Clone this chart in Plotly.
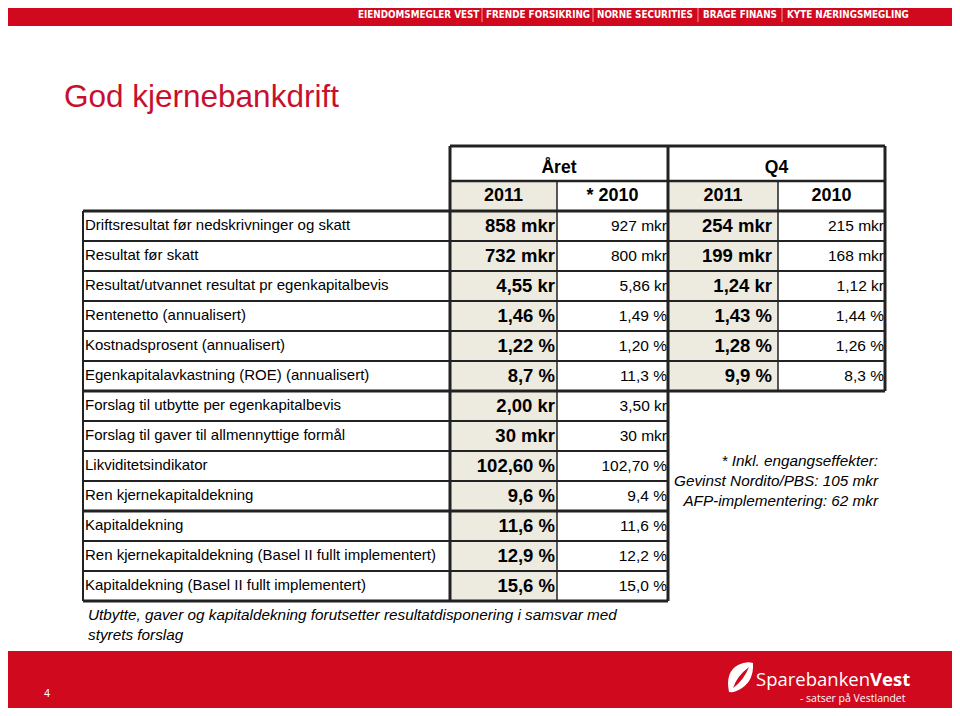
import plotly.graph_objects as go

# Data

labels = ["Driftsresultat før nedskrivninger og skatt",
          "Resultat før skatt",
          "Resultat/utvannet resultat pr egenkapitalbevis",
          "Rentenetto (annualisert)",
          "Kostnadsprosent (annualisert)",
          "Egenkapitalavkastning (ROE) (annualisert)",
          "Forslag til utbytte per egenkapitalbevis",
          "Forslag til gaver til allmennyttige formål",
          "Likviditetsindikator",
          "Ren kjernekapitaldekning",
          "Kapitaldekning",
          "Ren kjernekapitaldekning (Basel II fullt implementert)",
          "Kapitaldekning (Basel II fullt implementert)"]
aret_2011 = ["858 mkr", "732 mkr", "4,55 kr", "1,46 %", "1,22 %", "8,7 %", "2,00 kr",
             "30 mkr", "102,60 %", "9,6 %", "11,6 %", "12,9 %", "15,6 %"]
aret_2010 = ["927 mkr", "800 mkr", "5,86 kr", "1,49 %", "1,20 %", "11,3 %", "3,50 kr",
             "30 mkr", "102,70 %", "9,4 %", "11,6 %", "12,2 %", "15,0 %"]
q4_2011 = ["254 mkr", "199 mkr", "1,24 kr", "1,43 %", "1,28 %", "9,9 %"]
q4_2010 = ["215 mkr", "168 mkr", "1,12 kr", "1,44 %", "1,26 %", "8,3 %"]
groups = ["Året", "Q4"]
years = ["2011", "* 2010", "2011", "2010"]
companies = ["EIENDOMSMEGLER VEST", "FRENDE FORSIKRING", "NORNE SECURITIES", "BRAGE FINANS", "KYTE NÆRINGSMEGLING"]
note_lines = ["* Inkl. engangseffekter:", "Gevinst Nordito/PBS: 105 mkr", "AFP-implementering: 62 mkr"]
footnote = "Utbytte, gaver og kapitaldekning forutsetter resultatdisponering i samsvar med<br>styrets forslag"

# Layout constants (pixels of the page; the page body has an 8px margin)
RED = "#D0091E"
SHADE = "#EDEAE0"
LINE = "#222222"
FONT = "Liberation Sans, Arial, sans-serif"
PAD = 8
col_x = [83, 450, 557, 668, 778, 885]
head_y = [146, 181, 211]
row_h = 30
top = head_y[2]
n_rows = len(labels)
n_q4 = len(q4_2011)
bottom = top + n_rows * row_h
q4_bottom = top + n_q4 * row_h

fig = go.Figure()
shapes = []

def rect(x0, y0, x1, y1, color):
    shapes.append(dict(type="rect", xref="x", yref="y", x0=x0, y0=y0, x1=x1, y1=y1,
                       fillcolor=color, line=dict(width=0), layer="below"))

def line(x0, y0, x1, y1, w=2, color=LINE):
    shapes.append(dict(type="line", xref="x", yref="y", x0=x0, y0=y0, x1=x1, y1=y1,
                       line=dict(color=color, width=w)))

# red bars
rect(3, 0, 957, 26, RED)
rect(5, 651, 957, 716, RED)

# shaded 2011 columns
rect(col_x[1], head_y[1], col_x[2], bottom, SHADE)
rect(col_x[3], head_y[1], col_x[4], q4_bottom, SHADE)

# horizontal lines
line(col_x[1], head_y[0], col_x[5], head_y[0], 3)
line(col_x[1], head_y[1], col_x[5], head_y[1], 2.5)
for i in range(n_rows + 1):
    y = top + i * row_h
    x_end = col_x[5] if i <= n_q4 else col_x[3]
    w = 3 if i in (0, n_q4, 10, n_rows) else 2
    line(col_x[0], y, x_end, y, w)

# vertical lines
line(col_x[0], top, col_x[0], bottom, 2)
line(col_x[1], head_y[0], col_x[1], bottom, 3)
line(col_x[2], head_y[1], col_x[2], bottom, 1.5)
line(col_x[3], head_y[0], col_x[3], bottom, 3)
line(col_x[4], head_y[1], col_x[4], q4_bottom, 1.5)
line(col_x[5], head_y[0], col_x[5], q4_bottom, 3)

# separators in the top bar
for sx in [482, 593, 698, 782]:
    line(sx, 4, sx, 22, 1, "#F29A9A")

# logo icon
shapes.append(dict(type="path", xref="x", yref="y",
                   path="M 729 692 Q 725 672 738 665 Q 746 661 753 663 Q 754 680 742 688 Q 735 693 729 692 Z",
                   fillcolor="white", line=dict(width=0)))
shapes.append(dict(type="path", xref="x", yref="y",
                   path="M 733 688 Q 737 676 749 667 Q 744 680 733 688 Z",
                   fillcolor=RED, line=dict(width=0)))

row_centers = [top + row_h * i + row_h / 2 + 1 for i in range(n_rows)]

def text_trace(xs, ys, texts, size, pos, bold=False, color="black"):
    fig.add_trace(go.Scatter(x=xs, y=ys, mode="text", text=texts, textposition=pos,
                             textfont=dict(family=FONT, size=size, color=color,
                                           weight="bold" if bold else "normal"),
                             hoverinfo="skip", showlegend=False))

# header
text_trace([(col_x[1] + col_x[3]) / 2, (col_x[3] + col_x[5]) / 2], [169, 169], groups, 17.5, "middle center", True)
text_trace([(col_x[i] + col_x[i + 1]) / 2 for i in range(1, 5)], [196] * 4, years, 18, "middle center", True)

# body
text_trace([col_x[0] + 2] * n_rows, [c - 1 for c in row_centers], labels, 15, "middle right")
text_trace([col_x[2] - 2] * n_rows, row_centers, aret_2011, 18.5, "middle left", True)
text_trace([col_x[3] - 1] * n_rows, row_centers, aret_2010, 15.5, "middle left")
text_trace([col_x[4] - 6] * n_q4, row_centers[:n_q4], q4_2011, 18.5, "middle left", True)
text_trace([col_x[5] - 1] * n_q4, row_centers[:n_q4], q4_2010, 15.5, "middle left")

annotations = []
# top bar companies
comp_x = [418, 538, 645, 740, 848]
for cx, name in zip(comp_x, companies):
    annotations.append(dict(x=cx, y=14, xref="x", yref="y", text="<b>" + name + "</b>", showarrow=False,
                            font=dict(family="DejaVu Sans Condensed, Liberation Sans Narrow, sans-serif",
                                      size=9.8, color="white")))

annotations += [
    dict(x=62, y=96, xref="x", yref="y", text="God kjernebankdrift", showarrow=False, xanchor="left",
         font=dict(family=FONT, size=31.5, color="#C8102E")),
    dict(x=86, y=624, xref="x", yref="y", text="<i>" + footnote + "</i>", showarrow=False, xanchor="left",
         align="left", font=dict(family=FONT, size=15.3, color="black")),
    dict(x=881, y=480, xref="x", yref="y", text="<i>" + "<br>".join(note_lines) + "</i>", showarrow=False,
         xanchor="right", align="right", font=dict(family=FONT, size=15.3, color="black")),
    dict(x=47, y=693, xref="x", yref="y", text="4", showarrow=False,
         font=dict(family=FONT, size=11, color="white")),
    dict(x=754, y=678, xref="x", yref="y", text="Sparebanken<b>Vest</b>", showarrow=False, xanchor="left",
         font=dict(family="Open Sans, sans-serif", size=18.5, color="white")),
    dict(x=908, y=698, xref="x", yref="y", text="- satser på Vestlandet", showarrow=False, xanchor="right",
         font=dict(family="Open Sans, sans-serif", size=10.5, color="white")),
]

fig.update_layout(width=960 - 2 * PAD, height=716 - 2 * PAD, margin=dict(l=0, r=0, t=0, b=0),
                  paper_bgcolor="white", plot_bgcolor="white",
                  shapes=shapes, annotations=annotations)
fig.update_xaxes(range=[PAD, 960 - PAD], visible=False, fixedrange=True)
fig.update_yaxes(range=[716 - PAD, PAD], visible=False, fixedrange=True)

fig.write_html("out.html")
